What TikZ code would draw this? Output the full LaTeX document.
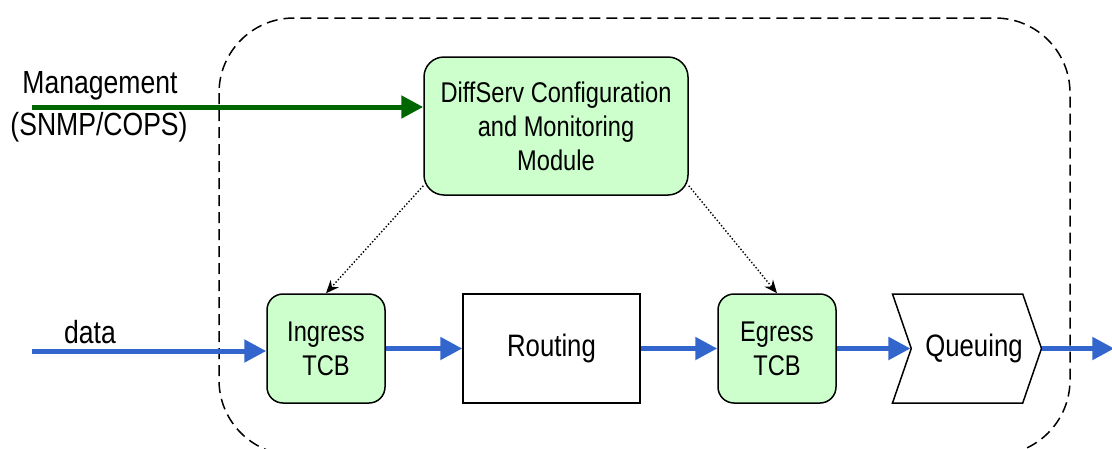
\documentclass[tikz,border=0pt]{standalone}
\usepackage{fontspec}
\setmainfont[FakeStretch=0.83]{Liberation Sans}
\usetikzlibrary{arrows.meta,positioning,shapes.symbols}

\definecolor{boxgreen}{HTML}{CCFFCC}
\definecolor{flowblue}{HTML}{3366CC}
\definecolor{mgmtgreen}{HTML}{006600}

\begin{document}
\begin{tikzpicture}[x=1pt,y=-1pt,>={Triangle[length=22pt,width=22pt]},
	node distance=225.5pt]
	\tikzstyle{tcb}=[draw,fill=boxgreen,rounded corners=16pt,line width=1.5pt,
		minimum width=118pt,minimum height=109pt,align=center,
		font=\fontsize{28.5}{34}\selectfont]
	\tikzstyle{block}=[draw,line width=1.5pt,minimum width=177pt,
		minimum height=109pt,font=\fontsize{31}{34}\selectfont]
	\tikzstyle{queue}=[draw,line width=1.5pt,signal,signal from=west,
		signal to=east,signal pointer angle=142,minimum width=149pt,
		minimum height=109pt]
	\tikzstyle{sidetext}=[font=\fontsize{32}{34}\selectfont,inner sep=0pt]
	\tikzstyle{flow}=[->,flowblue,line width=5pt]
	\tikzstyle{ctrl}=[-{Stealth[length=13pt,width=11pt]},dotted,line width=1.4pt]

	\useasboundingbox (0,0) rectangle (1112,448);

	% router boundary
	\draw[dash pattern=on 11pt off 6pt,line width=1.5pt,rounded corners=75pt]
		(219,18) rectangle (1070,455);

	\node[tcb] (ingress) at (326,348.5) {Ingress\\TCB};
	\node[block] (routing) [right of=ingress] {Routing};
	\node[tcb] (egress) [right of=routing] {Egress\\TCB};
	\node[queue] (queue) [right of=egress,node distance=190pt] {};
	\node[font=\fontsize{31}{34}\selectfont] (queuetext) at ([xshift=7pt]queue.center) {Queuing};
	\node[tcb,minimum width=264pt,minimum height=138pt,rounded corners=20pt]
		(diff) at (556,126) {DiffServ Configuration\\and Monitoring\\Module};

	\node[sidetext] (mgmt) at (100,86) {Management};
	\node[sidetext] (snmp) at (99,127) {(SNMP/COPS)};
	\node[sidetext] (data) at (90,332) {data};

	\coordinate (mgmtin) at (32,107);
	\coordinate (datain) at (32,351);
	\coordinate (dataout) at ([xshift=72pt]queue.east);

	\draw[->,mgmtgreen,line width=5pt] (mgmtin) -- (mgmtin -| diff.west);
	\draw[flow] (datain) -- (datain -| ingress.west);
	\draw[flow] (ingress) -- (routing);
	\draw[flow] (routing) -- (egress);
	\draw[flow] (egress) -- (queue);
	\draw[flow] (queue) -- (dataout);

	\draw[ctrl] ([yshift=10pt]diff.south west) -- (ingress.north);
	\draw[ctrl] ([yshift=10pt]diff.south east) -- (egress.north);
\end{tikzpicture}
\end{document}
